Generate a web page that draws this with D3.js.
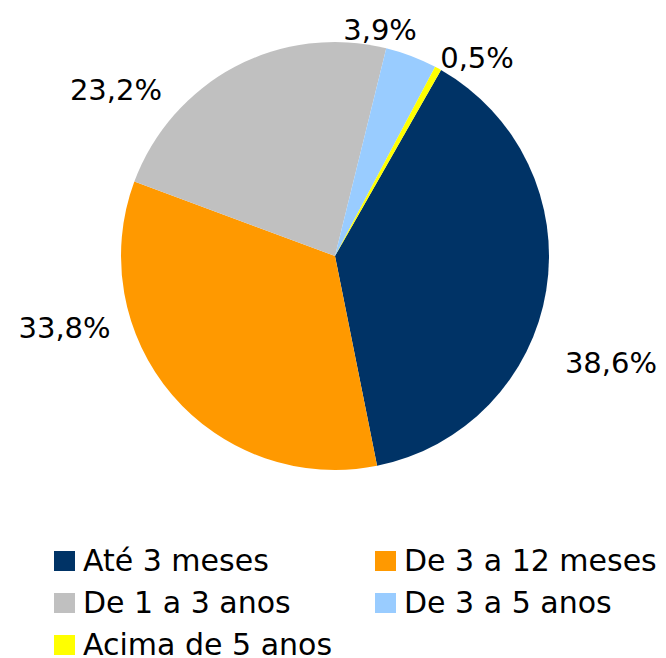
<!DOCTYPE html>
<html>
<head>
<meta charset="utf-8">
<script src="https://cdn.jsdelivr.net/npm/d3@7"></script>
<style>
  body { margin: 0; background: #fff; }
  text { font-family: "DejaVu Sans", sans-serif; fill: #000; }
</style>
</head>
<body>
<div id="chart"></div>
<script>
const CATEGORIES = ['Até 3 meses', 'De 3 a 12 meses', 'De 1 a 3 anos', 'De 3 a 5 anos', 'Acima de 5 anos'];
const VALUES = [38.6, 33.8, 23.2, 3.9, 0.5];
const LABELS = ['38,6%', '33,8%', '23,2%', '3,9%', '0,5%'];
const COLOURS = ['#003366', '#FF9900', '#C0C0C0', '#99CCFF', '#FFFF00'];
// where excel put each label (degrees clockwise from top, distance from centre)
const LABEL_ANGLE = [111.2, 255, 307.2, 11.3, 35.6];
const LABEL_DIST = [296, 280, 275, 230, 244];

var width = 666, height = 658;
var cx = 335, cy = 256, radius = 214;

var svg = d3.select("#chart")
  .append("svg")
    .attr("width", width)
    .attr("height", height);

var pie = d3.pie()
  .sort(null)
  .startAngle(29.7 * Math.PI / 180)
  .endAngle(29.7 * Math.PI / 180 + 2 * Math.PI)
  .value(function(d) { return d; });

var arc = d3.arc().innerRadius(0).outerRadius(radius);

var g = svg.append("g")
  .attr("transform", "translate(" + cx + "," + cy + ")");

g.selectAll("path")
  .data(pie(VALUES))
  .enter()
  .append("path")
    .attr("d", arc)
    .style("fill", function(d, i) { return COLOURS[i]; });

// percentage labels
g.selectAll("text.lbl")
  .data(LABELS)
  .enter()
  .append("text")
    .attr("class", "lbl")
    .attr("text-anchor", "middle")
    .attr("dominant-baseline", "central")
    .attr("font-size", "29px")
    .attr("transform", function(d, i) {
      var p = d3.pointRadial(LABEL_ANGLE[i] * Math.PI / 180, LABEL_DIST[i]);
      return "translate(" + p[0] + "," + p[1] + ")";
    })
    .text(function(d) { return d; });

// legend, two columns
var legX = d3.scaleOrdinal().domain([0, 1]).range([54, 375]);
var legY = d3.scaleLinear().domain([0, 1]).range([551, 593]);

var leg = svg.selectAll("g.leg")
  .data(CATEGORIES)
  .enter()
  .append("g")
    .attr("class", "leg")
    .attr("transform", function(d, i) {
      return "translate(" + legX(i % 2) + "," + legY(Math.floor(i / 2)) + ")";
    });

leg.append("rect")
  .attr("width", 21)
  .attr("height", 20)
  .style("fill", function(d, i) { return COLOURS[i]; });

leg.append("text")
  .attr("x", 29)
  .attr("y", 20)
  .attr("font-size", "30px")
  .text(function(d) { return d; });
</script>
</body>
</html>
